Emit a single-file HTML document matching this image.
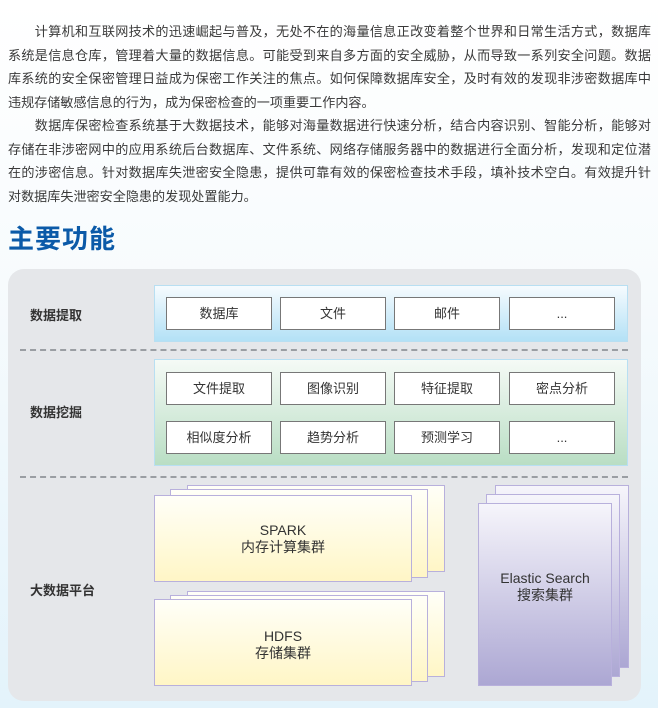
<!DOCTYPE html>
<html><head><meta charset="utf-8"><style>
*{margin:0;padding:0;box-sizing:border-box}
body{width:658px;height:708px;overflow:hidden;position:relative;background:linear-gradient(#ffffff 0%,#f7fbfd 40%,#e3f3fb 100%);font-family:"Liberation Sans","Noto Sans CJK SC",sans-serif;color:#333}
.p{position:absolute;left:8px;width:643px;font-size:13.1px;line-height:23.5px;color:#3a3a3a}
.p div{white-space:nowrap;text-align:justify;text-align-last:justify;width:643px;height:23.5px}
.p div.l{text-align-last:left}
h1{position:absolute;left:8px;top:219px;font-size:26px;color:#0b5aa8;font-weight:bold;letter-spacing:1px}
.panel{position:absolute;left:8px;top:269px;width:633px;height:432px;background:#e5e7ea;border-radius:16px}
.dash{position:absolute;left:20px;width:608px;border-top:2px dashed #9a9ea3}
.lab{position:absolute;left:30px;font-size:13px;font-weight:bold;color:#333}
.row{position:absolute;left:154px;width:474px;border:1px solid #b8dff2}
.b{position:absolute;width:106px;height:33px;background:#fff;border:1.5px solid #777;font-size:13px;text-align:center;line-height:31px;color:#333}
.c{position:absolute;border:1.5px solid #b8b0dc}
.y{background:linear-gradient(#fffff8,#fff6c6)}
.v{background:linear-gradient(#f6f5fb,#aca7d3)}
.t{position:absolute;width:100%;text-align:center;font-size:14px;line-height:17px;color:#333}
</style></head><body>
<div class="p" style="top:20px">
<div>　　计算机和互联网技术的迅速崛起与普及，无处不在的海量信息正改变着整个世界和日常生活方式，数据库</div>
<div>系统是信息仓库，管理着大量的数据信息。可能受到来自多方面的安全威胁，从而导致一系列安全问题。数据</div>
<div>库系统的安全保密管理日益成为保密工作关注的焦点。如何保障数据库安全，及时有效的发现非涉密数据库中</div>
<div class="l">违规存储敏感信息的行为，成为保密检查的一项重要工作内容。</div>
<div>　　数据库保密检查系统基于大数据技术，能够对海量数据进行快速分析，结合内容识别、智能分析，能够对</div>
<div>存储在非涉密网中的应用系统后台数据库、文件系统、网络存储服务器中的数据进行全面分析，发现和定位潜</div>
<div>在的涉密信息。针对数据库失泄密安全隐患，提供可靠有效的保密检查技术手段，填补技术空白。有效提升针</div>
<div class="l">对数据库失泄密安全隐患的发现处置能力。</div>
</div>
<h1>主要功能</h1>
<div class="panel"></div>
<div class="dash" style="top:349px"></div>
<div class="dash" style="top:476px"></div>
<div class="lab" style="top:305px">数据提取</div>
<div class="lab" style="top:402px">数据挖掘</div>
<div class="lab" style="top:580px">大数据平台</div>
<div class="row" style="top:285px;height:57px;background:linear-gradient(#f6fbfe,#b3e1f6)"></div>
<div class="row" style="top:359px;height:107px;background:linear-gradient(#f5faf6,#b9dec4)"></div>
<div class="b" style="left:166px;top:297px">数据库</div>
<div class="b" style="left:280px;top:297px">文件</div>
<div class="b" style="left:394px;top:297px">邮件</div>
<div class="b" style="left:509px;top:297px">...</div>
<div class="b" style="left:166px;top:372px">文件提取</div>
<div class="b" style="left:280px;top:372px">图像识别</div>
<div class="b" style="left:394px;top:372px">特征提取</div>
<div class="b" style="left:509px;top:372px">密点分析</div>
<div class="b" style="left:166px;top:421px">相似度分析</div>
<div class="b" style="left:280px;top:421px">趋势分析</div>
<div class="b" style="left:394px;top:421px">预测学习</div>
<div class="b" style="left:509px;top:421px">...</div>
<div class="c y" style="left:187px;top:485px;width:258px;height:87px"></div>
<div class="c y" style="left:170px;top:489px;width:258px;height:89px"></div>
<div class="c y" style="left:154px;top:495px;width:258px;height:87px"><div class="t" style="top:26px">SPARK<br>内存计算集群</div></div>
<div class="c y" style="left:187px;top:591px;width:258px;height:86px"></div>
<div class="c y" style="left:170px;top:595px;width:258px;height:87px"></div>
<div class="c y" style="left:154px;top:599px;width:258px;height:87px"><div class="t" style="top:28px">HDFS<br>存储集群</div></div>
<div class="c v" style="left:495px;top:485px;width:134px;height:183px"></div>
<div class="c v" style="left:486px;top:494px;width:134px;height:183px"></div>
<div class="c v" style="left:478px;top:503px;width:134px;height:183px"><div class="t" style="top:66px">Elastic Search<br>搜索集群</div></div>
</body></html>
